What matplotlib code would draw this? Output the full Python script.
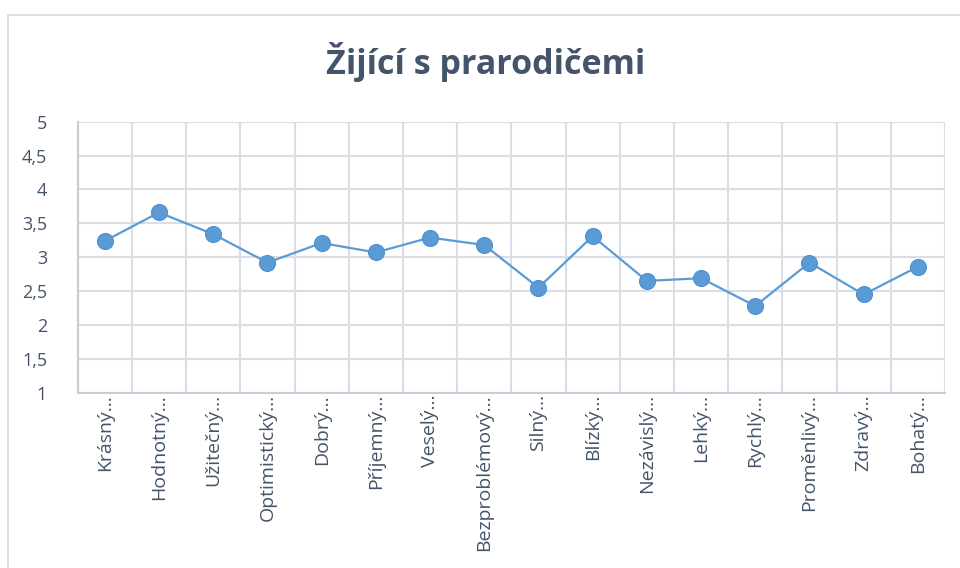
import matplotlib
matplotlib.use("Agg")
import matplotlib.pyplot as plt
from matplotlib.ticker import FuncFormatter, MultipleLocator
from matplotlib.patches import Rectangle

title = "Žijící s prarodičemi"
categories = ["Krásný…", "Hodnotný…", "Užitečný…", "Optimistický…", "Dobrý…",
              "Příjemný…", "Veselý…", "Bezproblémový…", "Silný…", "Blízký…",
              "Nezávislý…", "Lehký…", "Rychlý…", "Proměnlivý…", "Zdravý…", "Bohatý…"]
values = [3.24, 3.66, 3.34, 2.92, 3.21, 3.07, 3.29, 3.18,
          2.55, 3.31, 2.65, 2.69, 2.28, 2.92, 2.45, 2.86]
y_min, y_max, y_step = 1, 5, 0.5

plt.rcParams['font.family'] = ['Open Sans', 'DejaVu Sans']

fig = plt.figure(figsize=(9.6, 5.68), dpi=100)
fig.patch.set_facecolor("white")

# chart border
fig.patches.append(Rectangle((8/960, -0.1), 1.2, 1.1 - 15/568, transform=fig.transFigure,
                             fill=False, edgecolor="#D9D9D9", linewidth=1.2))

ax = fig.add_axes([77.7/960, 1 - 392.7/568, (945 - 77.7)/960, (392.7 - 121.7)/568])

grid_c = "#D9DDE5"
x = list(range(len(categories)))
ax.plot(x, values, color="#5B9BD5", linewidth=1.6, marker="o", markersize=11.5,
        markerfacecolor="#5B9BD5", markeredgecolor="#4F8FCF", markeredgewidth=0.8, zorder=3)

ax.set_xlim(-0.5, len(categories) - 0.5)
ax.set_ylim(y_min, y_max)
ax.yaxis.set_major_locator(MultipleLocator(y_step))
ax.yaxis.set_major_formatter(FuncFormatter(lambda v, p: (f"{v:g}").replace(".", ",")))

for i in range(len(categories) + 1):
    ax.axvline(i - 0.5, color=grid_c, linewidth=1.5, zorder=1)
yv = y_min
while yv <= y_max + 1e-9:
    ax.axhline(yv, color=grid_c, linewidth=1.5, zorder=1)
    yv += y_step

for s in ax.spines.values():
    s.set_visible(False)
for side in ("left", "bottom"):
    ax.spines[side].set_visible(True)
    ax.spines[side].set_color("#C7CDD8")
    ax.spines[side].set_linewidth(1.5)

ax.set_xticks(x)
ax.set_xticklabels(categories, rotation=90, va="top", ha="center",
                   fontsize=14, color="#44546A")
ax.tick_params(axis="x", length=0, pad=1)
ax.tick_params(axis="y", length=0, pad=22, labelsize=13, labelcolor="#44546A")

fig.text(486/960, 1 - 62/568, title, ha="center", va="center",
         fontsize=24.5, fontweight="bold", color="#44546A")

fig.savefig("out.png", dpi=100)
